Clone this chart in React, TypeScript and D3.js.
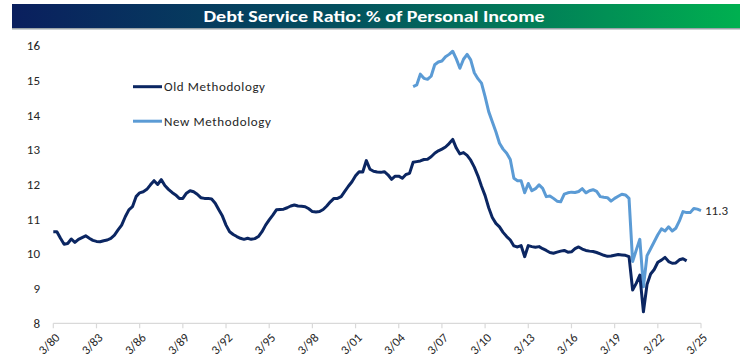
import React from "react";
import * as d3 from "d3";

// Quarterly data, index 0 = Q1 1980
const oldStart = 0;
const oldValues = [
  10.64, 10.64, 10.45, 10.28, 10.30, 10.43, 10.33, 10.42, 10.47, 10.52,
  10.45, 10.39, 10.36, 10.35, 10.38, 10.40, 10.45, 10.54, 10.69, 10.83,
  11.07, 11.27, 11.36, 11.65, 11.76, 11.79, 11.86, 11.99, 12.11, 12.00,
  12.14, 11.97, 11.86, 11.77, 11.70, 11.60, 11.60, 11.75, 11.82, 11.79,
  11.72, 11.62, 11.60, 11.60, 11.58, 11.46, 11.27, 11.09, 10.83, 10.64,
  10.56, 10.50, 10.45, 10.42, 10.45, 10.42, 10.44, 10.50, 10.64, 10.83,
  10.98, 11.12, 11.27, 11.28, 11.29, 11.33, 11.38, 11.41, 11.38, 11.37,
  11.36, 11.30, 11.22, 11.21, 11.22, 11.28, 11.38, 11.50, 11.60, 11.60,
  11.65, 11.80, 11.95, 12.08, 12.25, 12.37, 12.36, 12.69, 12.44, 12.38,
  12.36, 12.35, 12.37, 12.28, 12.15, 12.24, 12.24, 12.18, 12.29, 12.32,
  12.64, 12.66, 12.68, 12.72, 12.73, 12.80, 12.90, 12.97, 13.02, 13.08,
  13.18, 13.30, 13.05, 12.88, 12.92, 12.84, 12.70, 12.50, 12.25, 11.95,
  11.68, 11.33, 11.05, 10.88, 10.78, 10.62, 10.50, 10.40, 10.23, 10.20,
  10.24, 9.92, 10.24, 10.21, 10.19, 10.21, 10.15, 10.10, 10.04, 10.02,
  10.05, 10.08, 10.10, 10.05, 10.06, 10.15, 10.20, 10.14, 10.10, 10.08,
  10.07, 10.04, 10.00, 9.96, 9.93, 9.94, 9.96, 9.98, 9.97, 9.96,
  9.92, 8.96, 9.15, 9.39, 8.33, 9.12, 9.42, 9.55, 9.76, 9.82,
  9.90, 9.78, 9.73, 9.74, 9.83, 9.86, 9.80,
];

const newStart = 100; // Q1 2005
const newValues = [
  14.82, 14.87, 15.18, 15.06, 15.03, 15.12, 15.45, 15.53, 15.56, 15.68,
  15.75, 15.84, 15.62, 15.35, 15.61, 15.75, 15.59, 15.22, 15.05, 14.92,
  14.53, 14.10, 13.81, 13.52, 13.19, 13.02, 12.90, 12.72, 12.18, 12.11,
  12.11, 11.76, 12.03, 11.82, 11.88, 11.99, 11.89, 11.65, 11.67, 11.60,
  11.52, 11.50, 11.72, 11.76, 11.78, 11.77, 11.80, 11.88, 11.76, 11.82,
  11.85, 11.80, 11.65, 11.63, 11.62, 11.52, 11.60, 11.66, 11.72, 11.70,
  11.60, 9.78, 10.11, 10.42, 9.05, 9.95, 10.15, 10.35, 10.55, 10.72,
  10.66, 10.78, 10.66, 10.74, 10.95, 11.22, 11.19, 11.19, 11.31, 11.29,
  11.25,
];

const xTickLabels = [
  "3/80", "3/83", "3/86", "3/89", "3/92", "3/95", "3/98", "3/01",
  "3/04", "3/07", "3/10", "3/13", "3/16", "3/19", "3/22", "3/25",
];
const yTicks = [8, 9, 10, 11, 12, 13, 14, 15, 16];
const seriesNames = ["Old Methodology", "New Methodology"];
const lastLabel = "11.3";
const titleText = "Debt Service Ratio: % of Personal Income";

const W = 740;
const H = 363;
const OLD_COLOR = "#0b2662";
const NEW_COLOR = "#5b9bd5";
const FONT = "Carlito, Calibri, Lato, 'Open Sans', sans-serif";

export default function App() {
  const x = d3.scaleLinear().domain([0, 180]).range([53.3, 701]);
  const y = d3.scaleLinear().domain([8, 16]).range([323.3, 45.7]);

  const line = d3
    .line<[number, number]>()
    .x((d) => x(d[0]))
    .y((d) => y(d[1]))
    .curve(d3.curveLinear);

  const oldPts: [number, number][] = oldValues.map((v, i) => [oldStart + i, v]);
  const newPts: [number, number][] = newValues.map((v, i) => [newStart + i, v]);
  const lastNew = newPts[newPts.length - 1];

  const axisY = y(8);

  return (
    <svg
      width={W}
      height={H}
      style={{ position: "fixed", left: 0, top: 0, background: "#fff" }}
      fontFamily={FONT}
    >
      <defs>
        <linearGradient id="banner" x1="0" x2="1" y1="0" y2="0">
          <stop offset="0%" stopColor="#0a1f5e" />
          <stop offset="45%" stopColor="#03505f" />
          <stop offset="100%" stopColor="#00b050" />
        </linearGradient>
      </defs>
      <rect x={0} y={0} width={W} height={H} fill="#fff" />
      <rect x={12} y={4} width={W - 12} height={24} fill="url(#banner)" />
      <rect x={12} y={28} width={W - 12} height={1.5} fill="#9aa3a8" />
      <text
        x={374}
        y={22}
        textAnchor="middle"
        fill="#fff"
        fontWeight="bold"
        fontSize={16}
        textLength={341}
        lengthAdjust="spacingAndGlyphs"
      >
        {titleText}
      </text>

      {/* y tick labels */}
      {yTicks.map((t) => (
        <text
          key={t}
          x={40}
          y={y(t)}
          dy="0.35em"
          textAnchor="end"
          fontSize={13}
          fill="#262626"
        >
          {t}
        </text>
      ))}

      {/* x axis */}
      <line x1={x(0)} x2={x(180)} y1={axisY} y2={axisY} stroke="#d9d9d9" strokeWidth={1.2} />
      {xTickLabels.map((lab, i) => {
        const tx = x(i * 12);
        return (
          <g key={lab}>
            <line x1={tx} x2={tx} y1={axisY} y2={axisY + 5} stroke="#d9d9d9" strokeWidth={1.2} />
            <text
              transform={`translate(${tx + 4},${axisY + 12}) rotate(-45)`}
              textAnchor="end"
              fontSize={12.5}
              fill="#262626"
              dy="0.35em"
            >
              {lab}
            </text>
          </g>
        );
      })}

      {/* lines */}
      <path d={line(newPts) || ""} fill="none" stroke={NEW_COLOR} strokeWidth={3} strokeLinejoin="round" />
      <path d={line(oldPts) || ""} fill="none" stroke={OLD_COLOR} strokeWidth={3} strokeLinejoin="round" />

      {/* end label */}
      <text x={x(lastNew[0]) + 4} y={y(lastNew[1])} dy="0.35em" fontSize={13} fill="#262626">
        {lastLabel}
      </text>

      {/* legend */}
      {seriesNames.map((name, i) => {
        const ly = 86.7 + i * 34.5;
        return (
          <g key={name}>
            <line x1={133} x2={162} y1={ly} y2={ly} stroke={i === 0 ? OLD_COLOR : NEW_COLOR} strokeWidth={3} />
            <text x={164} y={ly} dy="0.35em" fontSize={13} fill="#262626" textLength={i === 0 ? 101 : 107} lengthAdjust="spacing">
              {name}
            </text>
          </g>
        );
      })}
    </svg>
  );
}
